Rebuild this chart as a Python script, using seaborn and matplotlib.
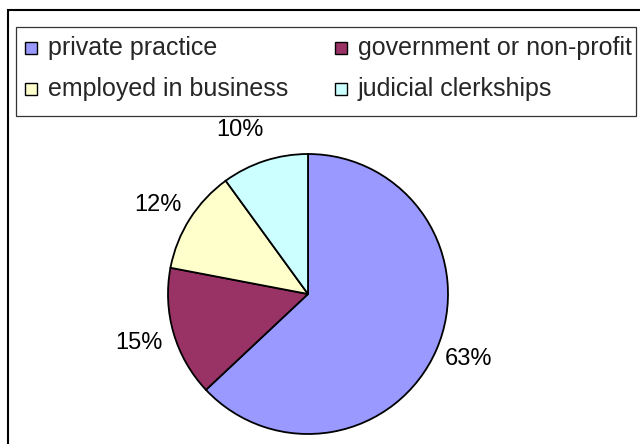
import matplotlib
matplotlib.use("Agg")
import numpy as np
import matplotlib.pyplot as plt
import seaborn as sns
from matplotlib.patches import Rectangle

categories = ["private practice", "government or non-profit", "employed in business", "judicial clerkships"]
values = [63, 15, 12, 10]
colors = ["#9999FF", "#993366", "#FFFFCC", "#CCFFFF"]

sns.set_style("white")
plt.rcParams['font.family'] = ['Liberation Sans', 'DejaVu Sans']

W, H = 640, 444
fig = plt.figure(figsize=(W / 100, H / 100), dpi=100)

# outer chart border
fig.patches.append(Rectangle((7.5 / W, -0.05), 1.1, 1 - 10 / H + 0.05, transform=fig.transFigure,
                             fill=False, edgecolor="black", linewidth=1.5))

cx, cy, r = 308, 294, 140
ax = fig.add_axes([(cx - r) / W, (H - cy - r) / H, 2 * r / W, 2 * r / H])
wedges, texts, autotexts = ax.pie(values, colors=colors, startangle=90, counterclock=False,
                                  autopct=lambda p: f"{p:.0f}%", pctdistance=1.25,
                                  wedgeprops=dict(edgecolor="black", linewidth=1.3),
                                  textprops=dict(fontsize=17, color="black"))
# small nudges to mimic the original label placement (in axes data units)
nudges = [(0.0, 0.035), (-0.01, 0.0), (-0.02, -0.035), (-0.1, -0.02)]
for t, (dx, dy) in zip(autotexts, nudges):
    x, y = t.get_position()
    t.set_position((x + dx, y + dy))
ax.set_xlim(-1, 1)
ax.set_ylim(-1, 1)
ax.set_aspect("equal")
ax.axis("off")

# legend box
fig.patches.append(Rectangle((15.5 / W, 1 - 116 / H), (636 - 15.5) / W, (116 - 27) / H,
                             transform=fig.transFigure, fill=False, edgecolor="#333333", linewidth=0.9))
pos = [(25, 48), (335, 48), (25, 89), (335, 89)]
for i, (x, y) in enumerate(pos):
    fig.patches.append(Rectangle((x / W, 1 - (y + 6) / H), 12 / W, 12 / H, transform=fig.transFigure,
                                 facecolor=colors[i], edgecolor="black", linewidth=1.0))
    fig.text((x + 23) / W, 1 - y / H, categories[i], fontsize=18, va="center", ha="left")

fig.savefig("out.png", dpi=100)
